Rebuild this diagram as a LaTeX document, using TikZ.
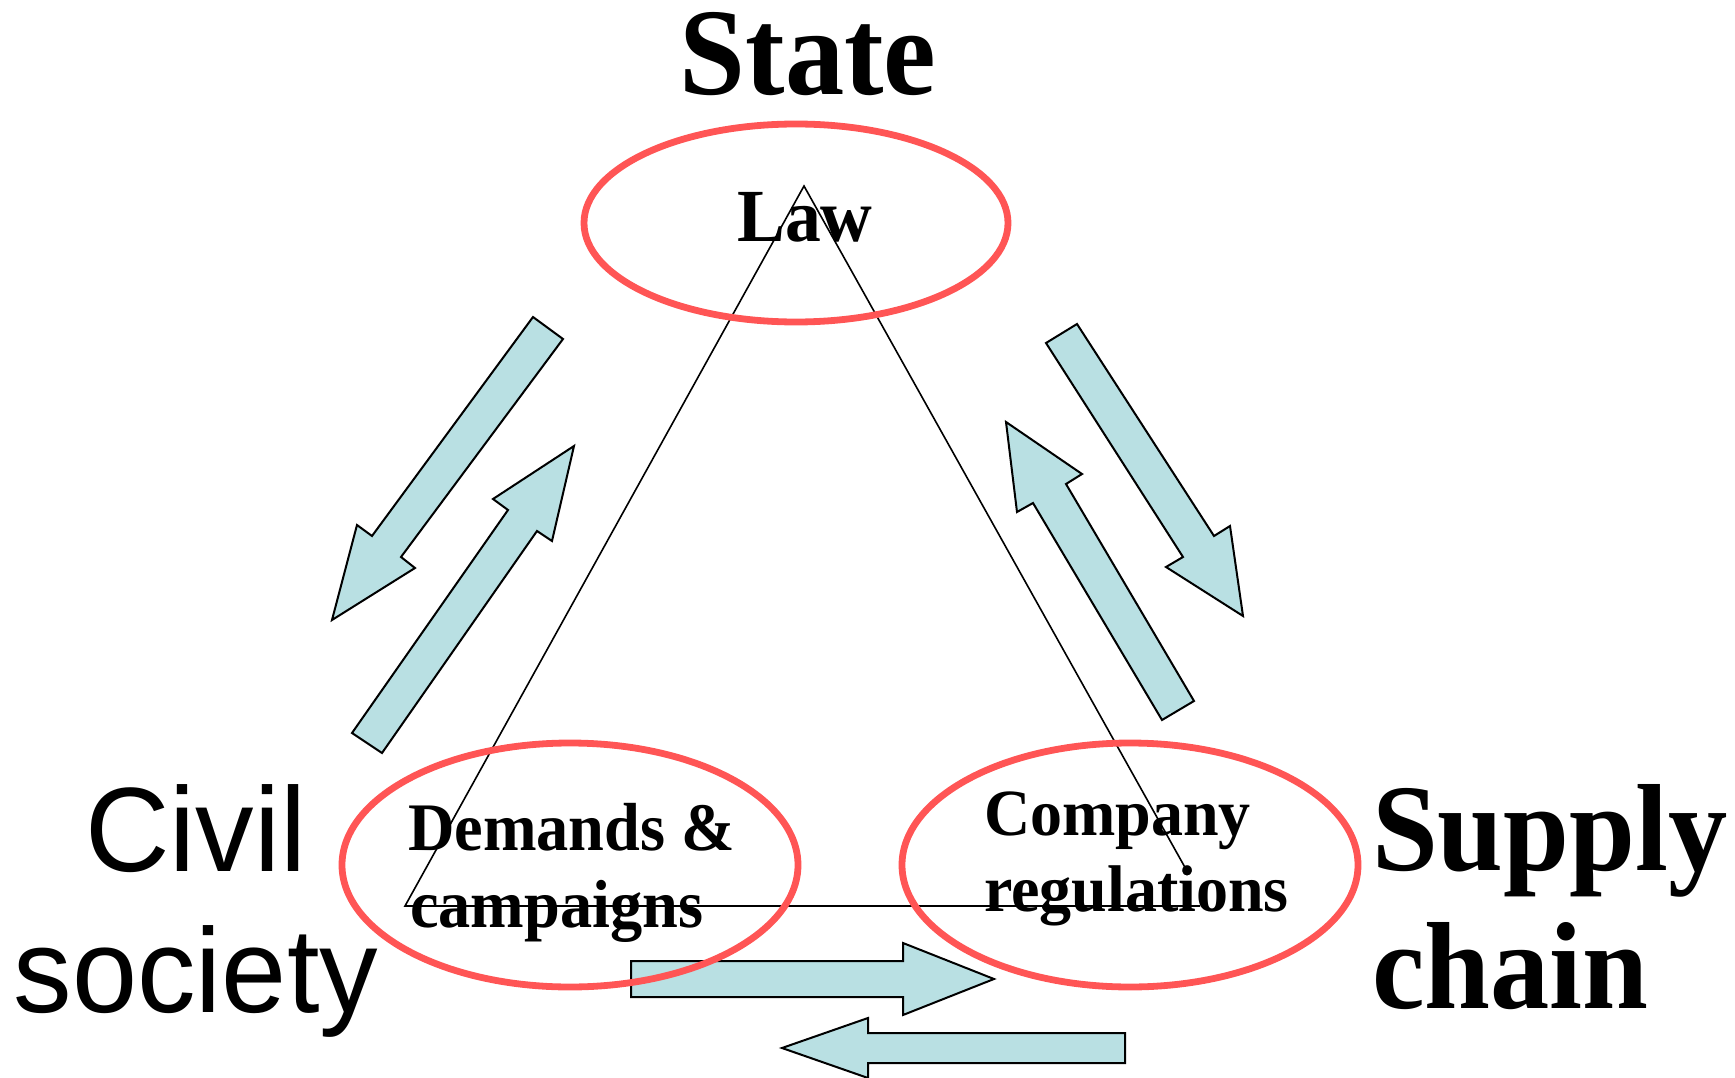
\documentclass[tikz,border=0pt]{standalone}
\usepackage{fontspec}
\usepackage{graphicx}
\newfontfamily\tnr{Liberation Serif}
\newfontfamily\arl{Liberation Sans}
\definecolor{ringred}{RGB}{255,85,85}
\definecolor{arrowblue}{RGB}{185,224,227}
\begin{document}
\begin{tikzpicture}[x=1pt,y=-1pt,
  ring/.style={draw=ringred,line width=6.8pt},
  fatarrow/.style={draw=black,fill=arrowblue,line width=2pt,line join=miter},
  triline/.style={draw=black,line width=1.6pt},
  lbl/.style={inner sep=0pt,outer sep=0pt}]
\useasboundingbox (0,0) rectangle (1735,1078);

% triangle
\coordinate (apex) at (804,186);
\coordinate (left) at (405,906);
\coordinate (bend) at (1200,906);
\coordinate (rend) at (1187,871);
\draw[triline] (rend) -- (apex) -- (left) -- (bend);
\fill (rend) circle (4.5pt);

% fat arrows
\draw[fatarrow] (533,317) -- (563,339) -- (401,557) -- (415,568) -- (332,620) -- (357,525) -- (372,536) -- cycle;
\draw[fatarrow] (352,733) -- (382,753) -- (537,531) -- (552,541) -- (574,446) -- (493,499) -- (508,510) -- cycle;
\draw[fatarrow] (1046,343) -- (1077,324) -- (1214,536) -- (1230,526) -- (1243,616) -- (1166,567) -- (1183,557) -- cycle;
\draw[fatarrow] (1162,720) -- (1194,701) -- (1066,484) -- (1082,474) -- (1006,422) -- (1017,512) -- (1033,503) -- cycle;
\draw[fatarrow] (631,961) -- (903,961) -- (903,943) -- (994,979) -- (903,1015) -- (903,997) -- (631,997) -- cycle;
\draw[fatarrow] (1125,1033) -- (868,1033) -- (868,1018) -- (782,1048) -- (868,1078) -- (868,1063) -- (1125,1063) -- cycle;

% rings
\draw[ring] (796,223) ellipse [x radius=212pt, y radius=99pt];
\draw[ring] (570,865) ellipse [x radius=228pt, y radius=122pt];
\draw[ring] (1130,865) ellipse [x radius=228pt, y radius=122pt];

% labels
\node[lbl,anchor=base] (state) at (808,95) {\scalebox{0.955}[1]{\tnr\bfseries\fontsize{124}{138}\selectfont State}};
\node[lbl,anchor=base] (law) at (805,242) {\scalebox{0.955}[1]{\tnr\bfseries\fontsize{75}{85}\selectfont Law}};
\node[lbl,anchor=base west] (dem1) at (408,850) {\scalebox{0.946}[1]{\tnr\bfseries\fontsize{68}{77}\selectfont Demands \&}};
\node[lbl,anchor=base west] (dem2) at (410,927) {\scalebox{0.946}[1]{\tnr\bfseries\fontsize{68}{77}\selectfont campaigns}};
\node[lbl,anchor=base west] (comp1) at (984,835) {\scalebox{0.97}[1]{\tnr\bfseries\fontsize{66}{76}\selectfont Company}};
\node[lbl,anchor=base west] (comp2) at (984,911) {\scalebox{0.97}[1]{\tnr\bfseries\fontsize{66}{76}\selectfont regulations}};
\node[lbl,anchor=base] (civ1) at (196,871) {\scalebox{0.975}[1]{\arl\fontsize{120}{141}\selectfont Civil}};
\node[lbl,anchor=base] (civ2) at (196,1012) {\scalebox{0.975}[1]{\arl\fontsize{120}{141}\selectfont society}};
\node[lbl,anchor=base west] (sup1) at (1372,870) {\scalebox{0.955}[1]{\tnr\bfseries\fontsize{124}{138}\selectfont Supply}};
\node[lbl,anchor=base west] (sup2) at (1372,1008) {\scalebox{0.955}[1]{\tnr\bfseries\fontsize{124}{138}\selectfont chain}};
\end{tikzpicture}
\end{document}
